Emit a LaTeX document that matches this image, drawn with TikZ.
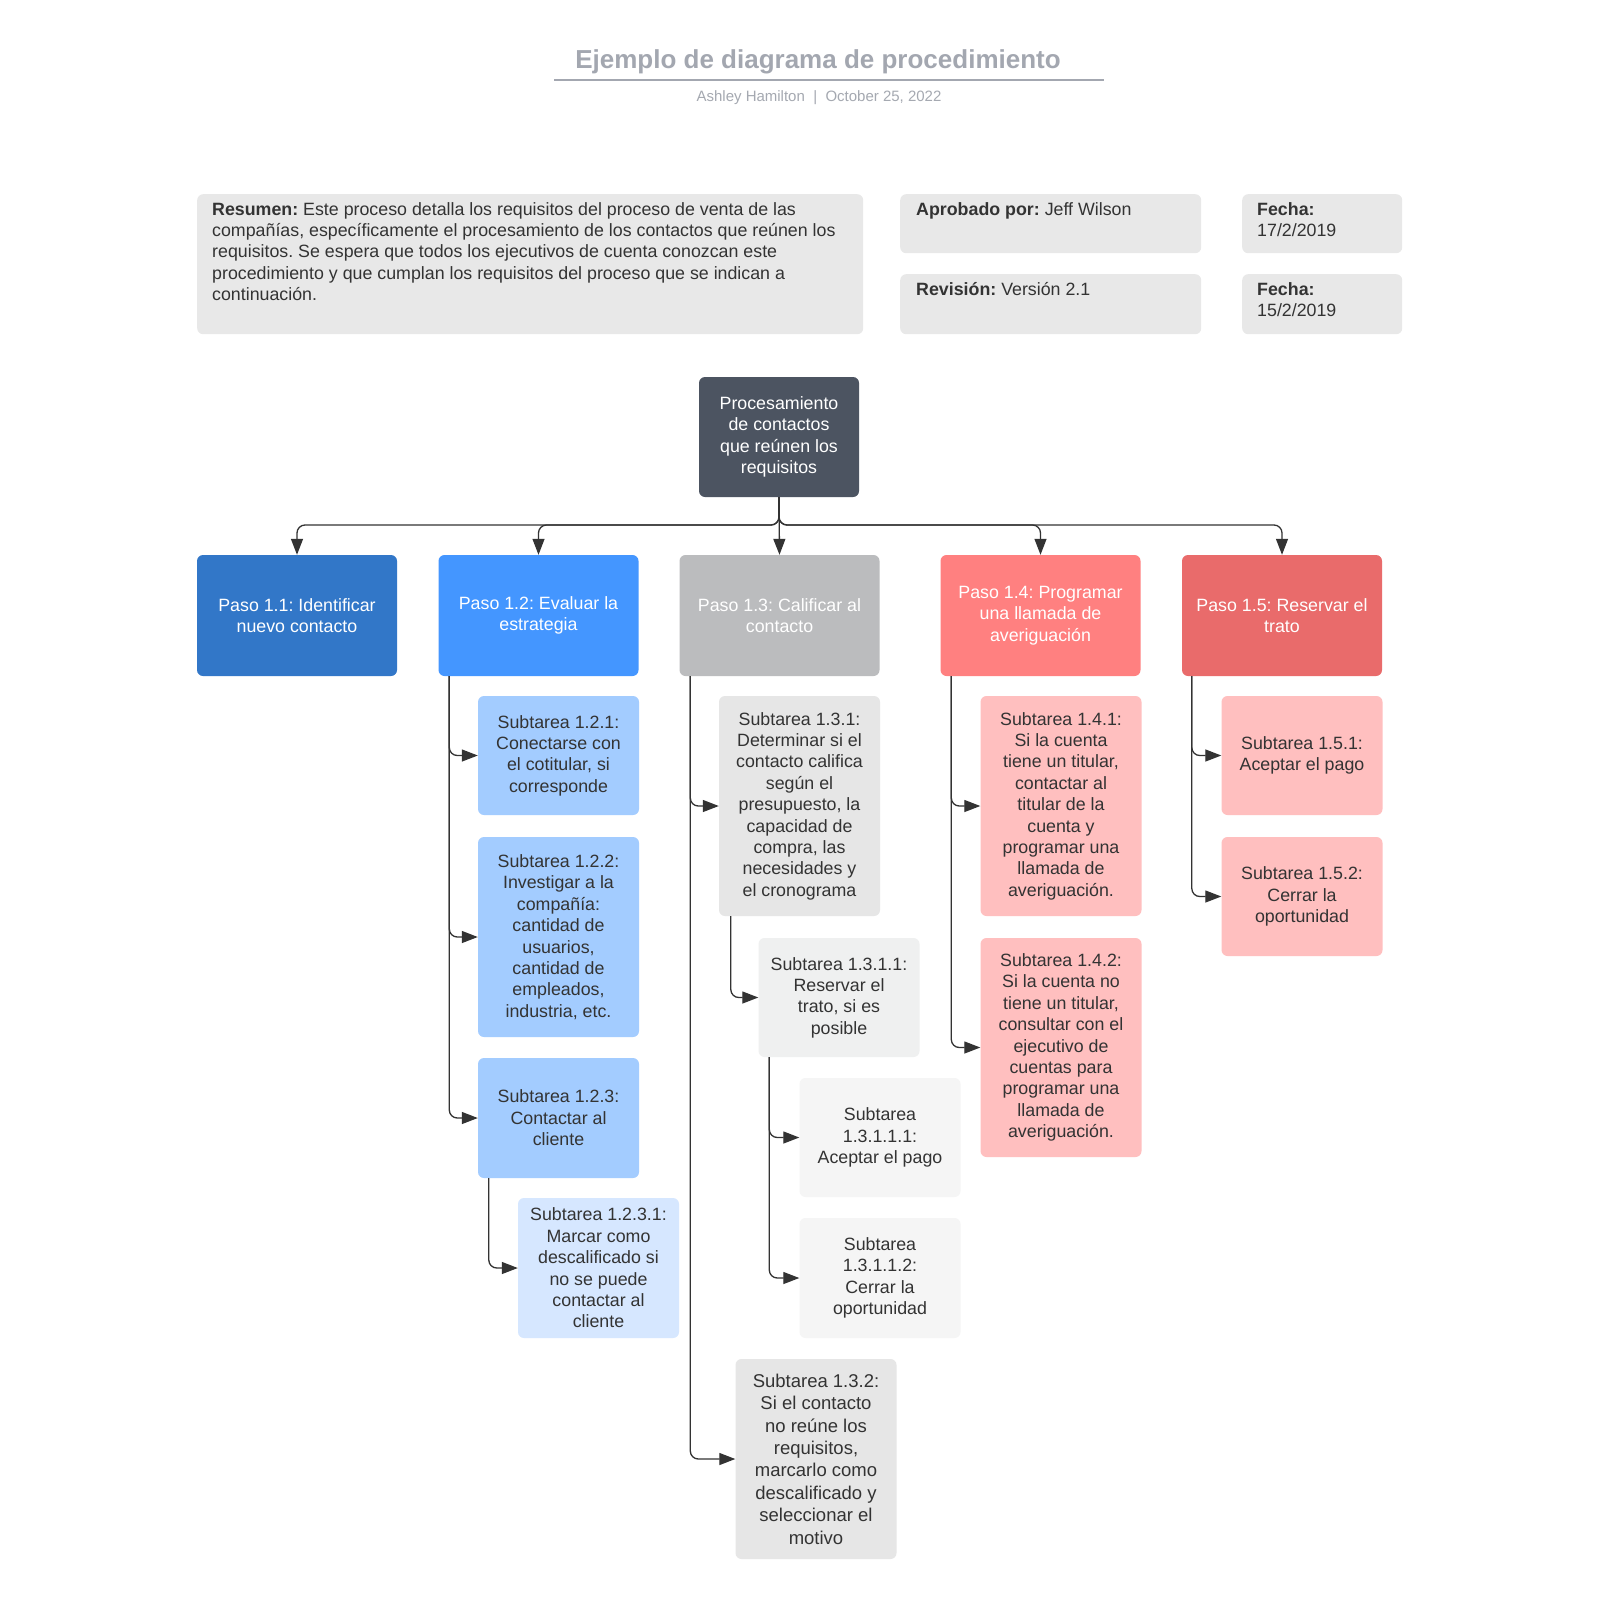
\documentclass[tikz,border=0pt]{standalone}
\usepackage{fontspec}
\setmainfont{Liberation Sans}
\usepackage{tikz}
\usetikzlibrary{
	arrows.meta
}
\usepackage{xcolor}
\definecolor{txtdark}{HTML}{333333}
\definecolor{linedark}{HTML}{333333}
\definecolor{titlegray}{HTML}{A3A7B0}
\definecolor{subgray}{HTML}{A5A9B1}
\definecolor{infogray}{HTML}{E8E8E8}
\definecolor{rootslate}{HTML}{4C5461}
\definecolor{blueA}{HTML}{3277C8}
\definecolor{blueB}{HTML}{4496FF}
\definecolor{blueC}{HTML}{A3CCFF}
\definecolor{blueD}{HTML}{D6E7FF}
\definecolor{grayA}{HTML}{BBBCBE}
\definecolor{grayB}{HTML}{E6E6E6}
\definecolor{grayC}{HTML}{EFF0F0}
\definecolor{grayD}{HTML}{F5F5F5}
\definecolor{redA}{HTML}{FF8080}
\definecolor{redB}{HTML}{E96B6B}
\definecolor{redC}{HTML}{FFBFBF}
\frenchspacing

\begin{document}
\begin{tikzpicture}[x=1pt,y=-1pt,
	box/.style={rectangle,rounded corners=6pt,inner sep=0pt,align=center,
		text=txtdark,font=\fontsize{17.8}{21.4}\selectfont},
	pasobox/.style={box,minimum width=200pt,minimum height=121pt,text=white},
	subbox/.style={box,minimum width=161pt},
	infobox/.style={rectangle,rounded corners=6pt,fill=infogray,anchor=north west,inner sep=0pt},
	infotext/.style={anchor=north west,align=left,inner sep=0pt,text=txtdark,
		font=\fontsize{17.8}{21.4}\selectfont},
	link/.style={draw=linedark,line width=1.3pt,rounded corners=8pt,
		-{Triangle[length=16pt,width=12pt]}}
	]
	
	\fill[white] (0,0) rectangle (1600,1600);
	\useasboundingbox (0,0) rectangle (1600,1600);
	
	% Title
	\node[text=titlegray,font=\fontsize{26}{30}\selectfont\bfseries] (title) at (818,62)
	{Ejemplo de diagrama de procedimiento};
	\draw[titlegray,line width=2pt] (554,80) -- (1104,80);
	\node[text=subgray,font=\fontsize{15}{18}\selectfont] (author) at (819,98)
	{Ashley Hamilton\ \ |\ \ October 25, 2022};
	
	% Header boxes
	\node[infobox,minimum width=666pt,minimum height=140pt] (summary) at (197,194) {};
	\node[infotext] (sumtext) at ([shift={(15,8)}]summary.north west)
	{\textbf{Resumen:} Este proceso detalla los requisitos del proceso de venta de las\\
		compañías, específicamente el procesamiento de los contactos que reúnen los\\
		requisitos. Se espera que todos los ejecutivos de cuenta conozcan este\\
		procedimiento y que cumplan los requisitos del proceso que se indican a\\
		continuación.};
	
	\node[infobox,minimum width=301pt,minimum height=59pt] (approved) at (900,194) {};
	\node[infotext] (apptext) at ([shift={(16,8)}]approved.north west)
	{\textbf{Aprobado por:} Jeff Wilson};
	
	\node[infobox,minimum width=301pt,minimum height=60pt] (revision) at (900,274) {};
	\node[infotext] (revtext) at ([shift={(16,8)}]revision.north west)
	{\textbf{Revisión:} Versión 2.1};
	
	\node[infobox,minimum width=160pt,minimum height=59pt] (dateA) at (1242,194) {};
	\node[infotext] (dateAtext) at ([shift={(15,8)}]dateA.north west)
	{\textbf{Fecha:}\\17/2/2019};
	
	\node[infobox,minimum width=160pt,minimum height=60pt] (dateB) at (1242,274) {};
	\node[infotext] (dateBtext) at ([shift={(15,8)}]dateB.north west)
	{\textbf{Fecha:}\\15/2/2019};
	
	% Root and steps
	\node[box,fill=rootslate,text=white,minimum width=160pt,minimum height=120pt] (root) at (779,437)
	{Procesamiento\\ de contactos\\ que reúnen los\\ requisitos};
	
	\node[pasobox,fill=blueA] (p11) at (297,615.5) {Paso 1.1: Identificar\\ nuevo contacto};
	\node[pasobox,fill=blueB] (p12) at (538.5,615.5) {Paso 1.2: Evaluar la\\ estrategia};
	\node[pasobox,fill=grayA] (p13) at (779.5,615.5) {Paso 1.3: Calificar al\\ contacto};
	\node[pasobox,fill=redA] (p14) at (1040.5,615.5) {Paso 1.4: Programar\\ una llamada de\\ averiguación};
	\node[pasobox,fill=redB] (p15) at (1282,615.5) {Paso 1.5: Reservar el\\ trato};
	
	\coordinate (bus) at (779,525);
	\draw[link] (root.south) |- (bus -| p11.north) -- (p11.north);
	\draw[link] (root.south) |- (bus -| p12.north) -- (p12.north);
	\draw[link] (root.south) -- (p13.north);
	\draw[link] (root.south) |- (bus -| p14.north) -- (p14.north);
	\draw[link] (root.south) |- (bus -| p15.north) -- (p15.north);
	
	% Step 1.2
	\node[subbox,fill=blueC,minimum height=119pt] (s121) at (558.5,755.5)
	{Subtarea 1.2.1:\\ Conectarse con\\ el cotitular, si\\ corresponde};
	\node[subbox,fill=blueC,minimum height=200pt] (s122) at (558.5,937)
	{Subtarea 1.2.2:\\ Investigar a la\\ compañía:\\ cantidad de\\ usuarios,\\ cantidad de\\ empleados,\\ industria, etc.};
	\node[subbox,fill=blueC,minimum height=120pt] (s123) at (558.5,1118)
	{Subtarea 1.2.3:\\ Contactar al\\ cliente};
	\node[subbox,fill=blueD,minimum height=140pt] (s1231) at (598.5,1268)
	{Subtarea 1.2.3.1:\\ Marcar como\\ descalificado si\\ no se puede\\ contactar al\\ cliente};
	
	\draw[link] ([xshift=11pt]p12.south west) |- (s121.west);
	\draw[link] ([xshift=11pt]p12.south west) |- (s122.west);
	\draw[link] ([xshift=11pt]p12.south west) |- (s123.west);
	\draw[link] ([xshift=11pt]s123.south west) |- (s1231.west);
	
	% Step 1.3
	\node[subbox,fill=grayB,minimum height=220pt] (s131) at (799.5,806)
	{Subtarea 1.3.1:\\ Determinar si el\\ contacto califica\\ según el\\ presupuesto, la\\ capacidad de\\ compra, las\\ necesidades y\\ el cronograma};
	\node[subbox,fill=grayC,minimum height=119pt] (s1311) at (839,997.5)
	{Subtarea 1.3.1.1:\\ Reservar el\\ trato, si es\\ posible};
	\node[subbox,fill=grayD,minimum height=119pt] (s13111) at (880,1137.5)
	{Subtarea\\ 1.3.1.1.1:\\ Aceptar el pago};
	\node[subbox,fill=grayD,minimum height=120pt] (s13112) at (880,1278)
	{Subtarea\\ 1.3.1.1.2:\\ Cerrar la\\ oportunidad};
	\node[subbox,fill=grayB,minimum height=200pt,font=\fontsize{18.5}{22.4}\selectfont] (s132) at (816,1459)
	{Subtarea 1.3.2:\\ Si el contacto\\ no reúne los\\ requisitos,\\ marcarlo como\\ descalificado y\\ seleccionar el\\ motivo};
	
	\draw[link] ([xshift=11pt]p13.south west) |- (s131.west);
	\draw[link] ([xshift=11pt]p13.south west) |- (s132.west);
	\draw[link] ([xshift=12pt]s131.south west) |- (s1311.west);
	\draw[link] ([xshift=11pt]s1311.south west) |- (s13111.west);
	\draw[link] ([xshift=11pt]s1311.south west) |- (s13112.west);
	
	% Step 1.4
	\node[subbox,fill=redC,minimum height=220pt] (s141) at (1061,806)
	{Subtarea 1.4.1:\\ Si la cuenta\\ tiene un titular,\\ contactar al\\ titular de la\\ cuenta y\\ programar una\\ llamada de\\ averiguación.};
	\node[subbox,fill=redC,minimum height=219pt] (s142) at (1061,1047.5)
	{Subtarea 1.4.2:\\ Si la cuenta no\\ tiene un titular,\\ consultar con el\\ ejecutivo de\\ cuentas para\\ programar una\\ llamada de\\ averiguación.};
	
	\draw[link] ([xshift=11pt]p14.south west) |- (s141.west);
	\draw[link] ([xshift=11pt]p14.south west) |- (s142.west);
	
	% Step 1.5
	\node[subbox,fill=redC,minimum height=119pt] (s151) at (1302,755.5)
	{Subtarea 1.5.1:\\ Aceptar el pago};
	\node[subbox,fill=redC,minimum height=119pt] (s152) at (1302,896.5)
	{Subtarea 1.5.2:\\ Cerrar la\\ oportunidad};
	
	\draw[link] ([xshift=10pt]p15.south west) |- (s151.west);
	\draw[link] ([xshift=10pt]p15.south west) |- (s152.west);
	
\end{tikzpicture}
\end{document}
